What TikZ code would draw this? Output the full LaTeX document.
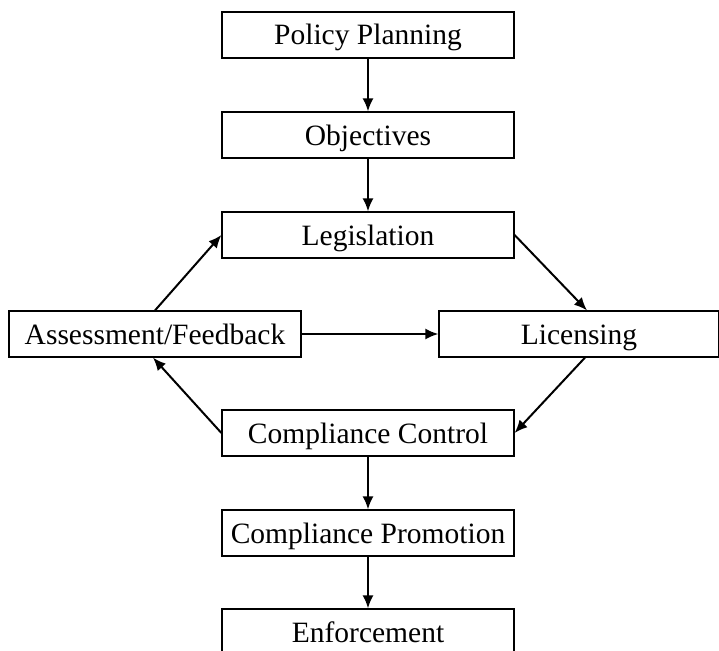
\documentclass[tikz,border=0pt]{standalone}
\usepackage{fontspec}
\setmainfont{Liberation Serif}
\usetikzlibrary{arrows.meta}
\begin{document}
\begin{tikzpicture}[x=1pt,y=-1pt,
  stagebox/.style={draw=black, line width=1.2pt, fill=white, inner sep=0pt,
    minimum width=292pt, minimum height=46pt,
    text height=20pt, text depth=0pt,
    font=\fontsize{29.5}{32}\selectfont},
  flow/.style={line width=2pt, -{Latex[length=13pt,width=11pt]}}]
  \useasboundingbox (0,0) rectangle (719,650);
  \clip (0,0) rectangle (719,650);
  % stages of the regulatory cycle
  \node[stagebox] (pp) at (368,35)  {Policy Planning};
  \node[stagebox] (ob) at (368,135) {Objectives};
  \node[stagebox] (le) at (368,235) {Legislation};
  \node[stagebox] (as) at (155,334) {Assessment/Feedback};
  \node[stagebox, minimum width=280pt] (li) at (579,334) {Licensing};
  \node[stagebox] (cc) at (368,433) {Compliance Control};
  \node[stagebox] (cp) at (368,533) {Compliance Promotion};
  \node[stagebox] (en) at (368,632) {Enforcement};
  % connectors
  \draw[flow] (pp.south) -- (ob.north);
  \draw[flow] (ob.south) -- (le.north);
  \draw[flow] (le.east) -- ([xshift=8pt]li.north);
  \draw[flow] ([xshift=6pt]li.south) -- (cc.east);
  \draw[flow] (cc.west) -- ([xshift=-2pt]as.south);
  \draw[flow] (as.north) -- (le.west);
  \draw[flow] (as.east) -- (li.west);
  \draw[flow] (cc.south) -- (cp.north);
  \draw[flow] (cp.south) -- (en.north);
\end{tikzpicture}
\end{document}
